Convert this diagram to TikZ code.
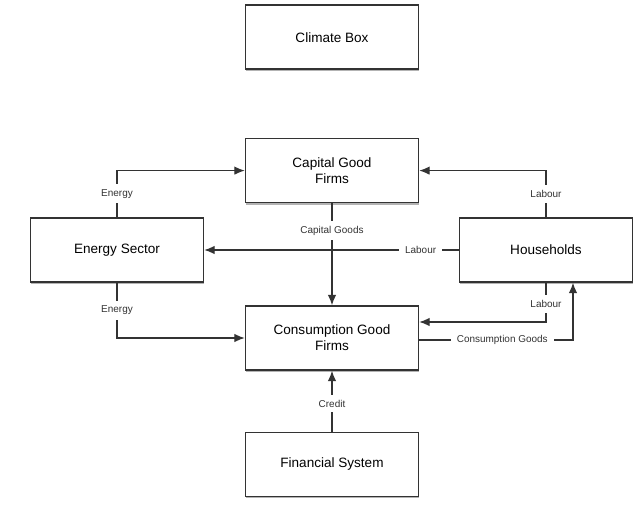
\documentclass[tikz,border=0pt]{standalone}
\usepackage{fontspec}
\setmainfont{Liberation Sans}
\usetikzlibrary{arrows.meta, positioning, shadows}

\begin{document}
\begin{tikzpicture}[
    x=1bp, y=1bp,
    node distance=60bp,
    box/.style={rectangle, draw=black!80, line width=1.4bp, fill=white, minimum width=173bp, minimum height=64bp, align=center, font=\fontsize{13.6}{16}\selectfont, drop shadow={shadow xshift=0.8bp, shadow yshift=-2bp, opacity=0.6}},
    arrow/.style={-{Latex[length=10.5bp, width=8.5bp]}, line width=1.2bp, draw=black!80},
    lbl/.style={fill=white, font=\fontsize{10}{12}\selectfont, text=black!80, inner xsep=6bp, inner ysep=5bp}
]
\useasboundingbox (0,0) rectangle (642,-523);

\node[box] (consumption) at (332,-338) {Consumption Good\\Firms};
\node[box, above=102bp of consumption] (capital) {Capital Good\\Firms};
\node[box, above=68bp of capital] (climate) {Climate Box};
\node[box, below=61bp of consumption] (financial) {Financial System};
\node[box] (energy) at (117,-250) {Energy Sector};
\node[box] (households) at (546,-250) {Households};

\draw[arrow] (energy.north) |- node[lbl, pos=0.25] {Energy} (capital.west);
\draw[arrow] (energy.south) |- node[lbl, pos=0.25] {Energy} (consumption.west);
\draw[arrow] (capital.south) -- node[lbl, pos=0.27] {Capital Goods} (consumption.north);
\draw[arrow] (households.west) -- node[lbl, pos=0.15] {Labour} (energy.east);
\draw[arrow] (households.north) |- node[lbl, pos=0.25] {Labour} (capital.east);
\draw[arrow] (households.south) |- node[lbl, pos=0.27] {Labour} ([yshift=16bp]consumption.east);
\draw[arrow] ([yshift=-2bp]consumption.east) -| node[lbl, pos=0.27] {Consumption Goods} ([xshift=27bp]households.south);
\draw[arrow] (financial.north) -- node[lbl, pos=0.46] {Credit} (consumption.south);

\end{tikzpicture}
\end{document}
